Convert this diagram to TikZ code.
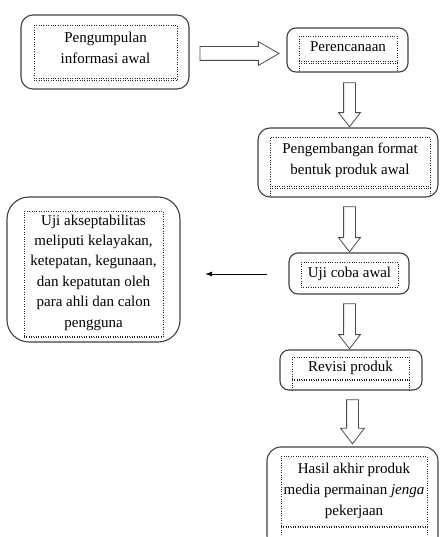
\documentclass[tikz,border=0pt]{standalone}
\usepackage{fontspec}
\setmainfont{Liberation Serif}
\usetikzlibrary{shapes.arrows,arrows.meta}
\tikzset{
	tahap/.style={draw=black!75, line width=1.1pt, rounded corners=9pt, inner sep=0pt},
	bingkai/.style={draw=black!85, dotted, inner sep=0pt},
	garis/.style={draw=black!85, dotted},
	isi/.style={align=center, font=\fontsize{15}{21}\selectfont, inner sep=0pt},
	panah/.style={draw=black!70, line width=0.8pt, shape=single arrow, single arrow head extend=5pt, single arrow tip angle=75, inner sep=5.5pt, minimum width=0pt, minimum height=44pt}
}
\begin{document}
\begin{tikzpicture}[x=1pt, y=-1pt]
	\useasboundingbox (0,0) rectangle (439,537);
	\clip (0,0) rectangle (439,537);
	\node[tahap, rounded corners=12pt, minimum width=168pt, minimum height=74pt] (kumpul) at (105,52) {};
	\node[bingkai, minimum width=143pt, minimum height=55pt] (kumpulB) at (105.5,52.5) {};
	\node[isi] (kumpulT) at (105.5,48) {Pengumpulan\\informasi awal};
	\draw[garis] ([yshift=1.5pt]kumpulB.south west) -- ([yshift=1.5pt]kumpulB.south east);
	\node[tahap, minimum width=121pt, minimum height=44pt] (rencana) at (347.5,50) {};
	\node[bingkai, minimum width=98pt, minimum height=27pt] (rencanaB) at (348,49.5) {};
	\node[isi, anchor=base] (rencanaT) at (348,51.5) {Perencanaan};
	\draw[garis] ([yshift=1.5pt]rencanaB.south west) -- ([yshift=1.5pt]rencanaB.south east);
	\draw[garis] (rencanaB.south west) -- (rencanaB.south west |- rencana.south);
	\draw[garis] (rencanaB.south east) -- (rencanaB.south east |- rencana.south);
	\node[tahap, rounded corners=12pt, minimum width=180pt, minimum height=69pt] (kembang) at (348,162.5) {};
	\node[bingkai, minimum width=160pt, minimum height=51pt] (kembangB) at (350,162.5) {};
	\node[isi] (kembangT) at (350,160.5) {Pengembangan format\\bentuk produk awal};
	\draw[garis] ([yshift=1.5pt]kembangB.south west) -- ([yshift=1.5pt]kembangB.south east);
	\draw[garis] (kembangB.south west) -- (kembangB.south west |- kembang.south);
	\draw[garis] (kembangB.south east) -- (kembangB.south east |- kembang.south);
	\node[tahap, rounded corners=22pt, minimum width=173pt, minimum height=145pt] (uji) at (93.5,269.5) {};
	\node[bingkai, minimum width=139pt, minimum height=126pt] (ujiB) at (93.5,274) {};
	\node[isi, font=\fontsize{15}{20.4}\selectfont] (ujiT) at (93.5,272.5) {Uji akseptabilitas\\meliputi kelayakan,\\ketepatan, kegunaan,\\dan kepatutan oleh\\para ahli dan calon\\pengguna};
	\draw[garis] ([yshift=1.5pt]ujiB.south west) -- ([yshift=1.5pt]ujiB.south east);
	\node[tahap, minimum width=120pt, minimum height=41pt] (coba) at (349,273.5) {};
	\node[bingkai, minimum width=97pt, minimum height=25pt] (cobaB) at (349.5,274.5) {};
	\node[isi, anchor=base] (cobaT) at (349.5,277) {Uji coba awal};
	\node[tahap, minimum width=142pt, minimum height=40pt] (revisi) at (351,370) {};
	\node[bingkai, minimum width=117pt, minimum height=23pt] (revisiB) at (350.5,368.5) {};
	\node[isi, anchor=base] (revisiT) at (350.5,371.7) {Revisi produk};
	\draw[garis] ([yshift=1.5pt]revisiB.south west) -- ([yshift=1.5pt]revisiB.south east);
	\draw[garis] (revisiB.south west) -- (revisiB.south west |- revisi.south);
	\draw[garis] (revisiB.south east) -- (revisiB.south east |- revisi.south);
	\node[tahap, rounded corners=14pt, minimum width=171pt, minimum height=103pt] (hasil) at (352.5,498.5) {};
	\node[bingkai, minimum width=146pt, minimum height=71pt] (hasilB) at (354,491.5) {};
	\node[isi] (hasilT) at (354,490.5) {Hasil akhir produk\\media permainan \textit{jenga}\\pekerjaan};
	\draw[garis] ([yshift=1.5pt]hasilB.south west) -- ([yshift=1.5pt]hasilB.south east);
	\draw[garis] (hasilB.south west) -- (hasilB.south west |- hasil.south);
	\draw[garis] (hasilB.south east) -- (hasilB.south east |- hasil.south);
	\node[panah, single arrow tip angle=60, inner sep=6.5pt, minimum height=79pt] (p1) at (233.5,53.5) {};
	\node[panah, rotate=-90] (p2) at (349.5,101) {};
	\node[panah, rotate=-90, minimum height=45pt] (p3) at (349.5,225.5) {};
	\node[panah, rotate=-90, minimum height=45pt] (p4) at (349.5,322.5) {};
	\node[panah, rotate=-90, single arrow head extend=6pt] (p5) at (352.5,418) {};
	\coordinate (kiriA) at (267,274);
	\coordinate (kiriB) at (205,274);
	\draw[line width=1pt, -{Latex[length=7pt, width=5pt]}] (kiriA) -- (kiriB);
\end{tikzpicture}
\end{document}
